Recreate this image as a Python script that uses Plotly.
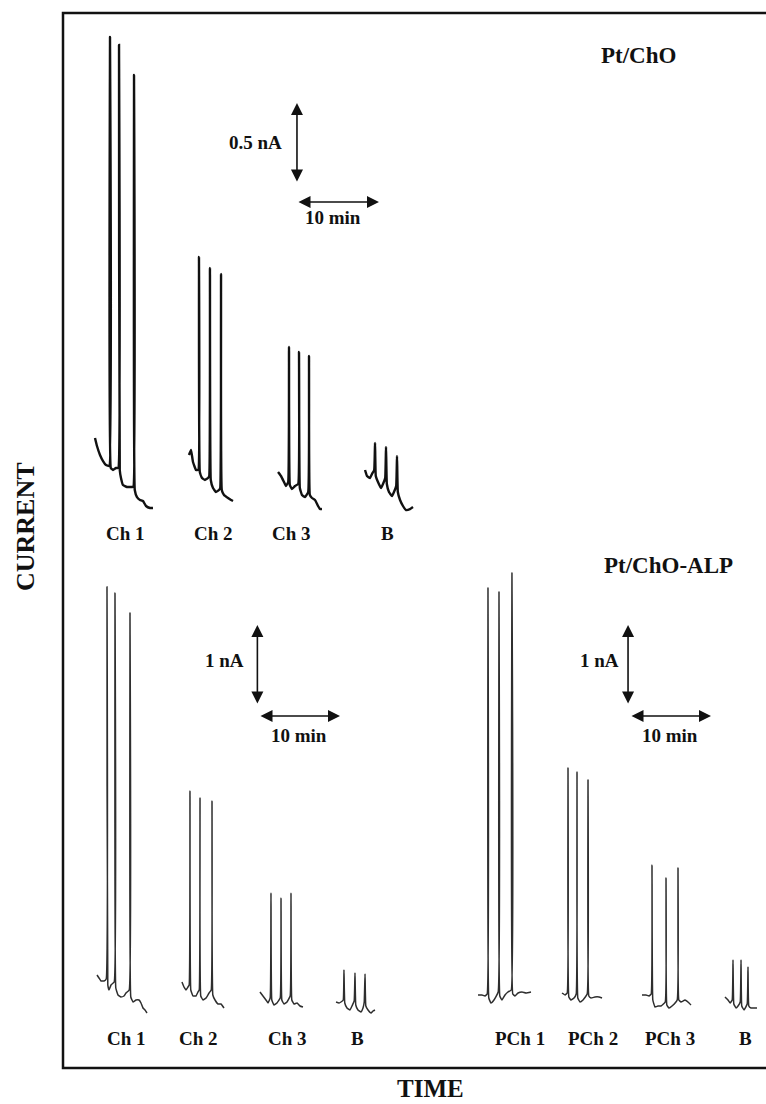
import plotly.graph_objects as go

# ---------------- data (time in min, current in nA) ----------------
# Pt/ChO (top panel)
TOP_CH1_PEAK_T = [1.83, 2.93, 4.76]
TOP_CH1_PEAK_I = [2.956, 2.906, 2.719]
TOP_CH1_BASE_T = [0.00, 0.24, 0.61, 0.98, 1.34, 1.73, 1.93, 2.20, 2.56, 2.83, 3.02, 3.17, 3.41, 3.90, 4.39, 4.66, 4.85, 5.12, 5.49, 5.85, 6.22, 6.71, 7.07]
TOP_CH1_BASE_I = [0.45, 0.40, 0.344, 0.306, 0.281, 0.275, 0.2625, 0.25, 0.2625, 0.2625, 0.25, 0.20, 0.156, 0.144, 0.144, 0.144, 0.125, 0.081, 0.0625, 0.056, 0.025, 0.0125, 0.0125]

TOP_CH2_PEAK_T = [12.68, 14.02, 15.37]
TOP_CH2_PEAK_I = [1.581, 1.5125, 1.475]
TOP_CH2_BASE_T = [11.46, 11.71, 11.95, 12.32, 12.59, 12.78, 13.05, 13.41, 13.78, 13.93, 14.12, 14.39, 14.76, 15.12, 15.27, 15.46, 15.73, 16.22, 16.59, 16.83]
TOP_CH2_BASE_I = [0.344, 0.375, 0.30, 0.25, 0.25, 0.2375, 0.20, 0.1875, 0.20, 0.2125, 0.1875, 0.1375, 0.1125, 0.125, 0.1375, 0.125, 0.094, 0.075, 0.0625, 0.056]

TOP_CH3_PEAK_T = [23.66, 24.88, 26.10]
TOP_CH3_PEAK_I = [1.019, 0.9875, 0.9625]
TOP_CH3_BASE_T = [22.32, 22.68, 23.05, 23.29, 23.56, 23.76, 24.02, 24.39, 24.78, 24.98, 25.24, 25.61, 26.00, 26.20, 26.46, 26.83, 27.20, 27.44, 27.68]
TOP_CH3_BASE_I = [0.2375, 0.2125, 0.175, 0.15, 0.175, 0.156, 0.131, 0.15, 0.1625, 0.1375, 0.094, 0.081, 0.1125, 0.094, 0.075, 0.0625, 0.025, 0.006, 0.006]

TOP_B_PEAK_T = [34.15, 35.49, 36.83]
TOP_B_PEAK_I = [0.419, 0.394, 0.3375]
TOP_B_BASE_T = [32.93, 33.17, 33.54, 33.78, 34.05, 34.24, 34.51, 34.88, 35.12, 35.39, 35.59, 35.85, 36.22, 36.46, 36.73, 36.93, 37.20, 37.56, 37.93, 38.41, 38.78]
TOP_B_BASE_I = [0.25, 0.2125, 0.20, 0.225, 0.25, 0.2125, 0.175, 0.1375, 0.1625, 0.20, 0.1625, 0.1125, 0.0875, 0.1125, 0.15, 0.1125, 0.0625, 0.025, 0.0, 0.006, 0.019]

# Pt/ChO-ALP (bottom panel)
BOT_CH1_PEAK_T = [1.235, 2.222, 4.074]
BOT_CH1_PEAK_I = [5.35, 5.275, 5.025]
BOT_CH1_BASE_T = [0.0, 0.247, 0.494, 0.864, 1.136, 1.333, 1.481, 1.728, 2.123, 2.321, 2.593, 2.963, 3.333, 3.580, 3.975, 4.173, 4.444, 4.815, 5.185, 5.432, 5.679, 5.926, 6.173]
BOT_CH1_BASE_I = [0.50, 0.4625, 0.425, 0.425, 0.45, 0.375, 0.3125, 0.375, 0.4125, 0.3375, 0.25, 0.225, 0.2375, 0.275, 0.3125, 0.225, 0.1625, 0.1875, 0.1875, 0.15, 0.0875, 0.0625, 0.025]

BOT_CH2_PEAK_T = [11.48, 12.72, 14.20]
BOT_CH2_PEAK_I = [2.80, 2.7125, 2.675]
BOT_CH2_BASE_T = [10.49, 10.74, 10.99, 11.23, 11.38, 11.58, 11.85, 12.22, 12.47, 12.62, 12.81, 13.09, 13.46, 13.83, 14.10, 14.30, 14.57, 14.94, 15.31, 15.68]
BOT_CH2_BASE_I = [0.4125, 0.35, 0.3125, 0.35, 0.375, 0.3125, 0.2375, 0.2375, 0.2875, 0.3125, 0.2375, 0.1875, 0.2125, 0.275, 0.3125, 0.25, 0.1875, 0.1375, 0.1375, 0.0875]

BOT_CH3_PEAK_T = [21.48, 22.72, 23.95]
BOT_CH3_PEAK_I = [1.525, 1.4625, 1.525]
BOT_CH3_BASE_T = [20.12, 20.49, 20.86, 21.11, 21.38, 21.58, 21.85, 22.22, 22.62, 22.82, 23.09, 23.46, 23.85, 24.05, 24.32, 24.69, 25.06, 25.43]
BOT_CH3_BASE_I = [0.2875, 0.2375, 0.1875, 0.15, 0.2125, 0.1875, 0.125, 0.15, 0.2125, 0.1875, 0.1375, 0.1625, 0.2375, 0.1875, 0.1375, 0.15, 0.1125, 0.10]

BOT_B1_PEAK_T = [30.49, 31.85, 33.09]
BOT_B1_PEAK_I = [0.5625, 0.525, 0.5125]
BOT_B1_BASE_T = [29.51, 29.88, 30.12, 30.40, 30.59, 30.86, 31.23, 31.48, 31.75, 31.95, 32.22, 32.59, 32.84, 32.99, 33.19, 33.46, 33.83, 34.07, 34.32]
BOT_B1_BASE_I = [0.1625, 0.15, 0.1625, 0.1875, 0.15, 0.0875, 0.0625, 0.1125, 0.175, 0.125, 0.0625, 0.0375, 0.0875, 0.1625, 0.1125, 0.0625, 0.025, 0.05, 0.0625]

BOT_PCH1_PEAK_T = [48.27, 49.63, 51.23]
BOT_PCH1_PEAK_I = [5.3375, 5.2875, 5.525]
BOT_PCH1_BASE_T = [47.04, 47.53, 47.90, 48.17, 48.37, 48.64, 49.01, 49.53, 49.73, 50.00, 50.37, 50.74, 51.14, 51.33, 51.60, 51.98, 52.47, 52.96, 53.58]
BOT_PCH1_BASE_I = [0.25, 0.25, 0.2375, 0.2625, 0.2125, 0.15, 0.1875, 0.2875, 0.2375, 0.1875, 0.25, 0.2875, 0.3125, 0.2625, 0.2375, 0.275, 0.2875, 0.275, 0.2875]

BOT_PCH2_PEAK_T = [58.15, 59.26, 60.62]
BOT_PCH2_PEAK_I = [3.0875, 3.0375, 2.9375]
BOT_PCH2_BASE_T = [57.41, 57.78, 58.05, 58.25, 58.52, 58.89, 59.16, 59.36, 59.63, 60.00, 60.52, 60.72, 60.99, 61.48, 61.98, 62.35]
BOT_PCH2_BASE_I = [0.275, 0.25, 0.275, 0.225, 0.1875, 0.2125, 0.2625, 0.2125, 0.1625, 0.1875, 0.2625, 0.2375, 0.2125, 0.225, 0.225, 0.2125]

BOT_PCH3_PEAK_T = [68.52, 70.25, 71.73]
BOT_PCH3_PEAK_I = [1.875, 1.7125, 1.8375]
BOT_PCH3_BASE_T = [67.28, 67.78, 68.15, 68.42, 68.62, 68.89, 69.26, 69.63, 70.15, 70.35, 70.62, 70.99, 71.63, 71.83, 72.10, 72.59, 73.09, 73.33]
BOT_PCH3_BASE_I = [0.25, 0.25, 0.2375, 0.2625, 0.1875, 0.10, 0.1125, 0.1125, 0.1625, 0.125, 0.0875, 0.1125, 0.1875, 0.1875, 0.1625, 0.1875, 0.15, 0.125]

BOT_B2_PEAK_T = [78.52, 79.51, 80.37]
BOT_B2_PEAK_I = [0.6875, 0.6875, 0.60]
BOT_B2_BASE_T = [77.53, 77.90, 78.15, 78.42, 78.62, 78.89, 79.14, 79.41, 79.60, 79.88, 80.27, 80.47, 80.74, 81.11, 81.48]
BOT_B2_BASE_I = [0.225, 0.1875, 0.15, 0.1875, 0.1375, 0.0875, 0.1125, 0.1625, 0.1125, 0.0625, 0.1375, 0.1125, 0.0875, 0.0875, 0.0875]

TOP_LABELS = ["Ch 1", "Ch 2", "Ch 3", "B"]
BOT_LABELS = ["Ch 1", "Ch 2", "Ch 3", "B", "PCh 1", "PCh 2", "PCh 3", "B"]
TOP_TITLE = "Pt/ChO"
BOT_TITLE = "Pt/ChO-ALP"
TOP_SCALE_NA = 0.5
BOT_SCALE_NA = 1.0
SCALE_MIN = 10

# ---------------- layout constants ----------------
W, H = 766, 1104
FONT = "Liberation Serif"
TOP_LABEL_T = [3.66, 14.39, 24.02, 35.73]
BOT_LABEL_T = [3.58, 12.47, 23.46, 32.10, 52.22, 61.23, 70.74, 80.0]


def build(bt, bi, pt, pi):
    pts = list(zip(bt, bi)) + list(zip(pt, pi))
    pts.sort(key=lambda p: p[0])
    return [p[0] for p in pts], [p[1] for p in pts]


fig = go.Figure()

top_sets = [
    (TOP_CH1_BASE_T, TOP_CH1_BASE_I, TOP_CH1_PEAK_T, TOP_CH1_PEAK_I),
    (TOP_CH2_BASE_T, TOP_CH2_BASE_I, TOP_CH2_PEAK_T, TOP_CH2_PEAK_I),
    (TOP_CH3_BASE_T, TOP_CH3_BASE_I, TOP_CH3_PEAK_T, TOP_CH3_PEAK_I),
    (TOP_B_BASE_T, TOP_B_BASE_I, TOP_B_PEAK_T, TOP_B_PEAK_I),
]
for name, s in zip(TOP_LABELS, top_sets):
    x, y = build(*s)
    fig.add_trace(go.Scatter(x=x, y=y, mode="lines", name=name,
                             line=dict(color="#111111", width=2.4, shape="spline", smoothing=0.3),
                             xaxis="x", yaxis="y", showlegend=False, hoverinfo="skip"))

bot_sets = [
    (BOT_CH1_BASE_T, BOT_CH1_BASE_I, BOT_CH1_PEAK_T, BOT_CH1_PEAK_I),
    (BOT_CH2_BASE_T, BOT_CH2_BASE_I, BOT_CH2_PEAK_T, BOT_CH2_PEAK_I),
    (BOT_CH3_BASE_T, BOT_CH3_BASE_I, BOT_CH3_PEAK_T, BOT_CH3_PEAK_I),
    (BOT_B1_BASE_T, BOT_B1_BASE_I, BOT_B1_PEAK_T, BOT_B1_PEAK_I),
    (BOT_PCH1_BASE_T, BOT_PCH1_BASE_I, BOT_PCH1_PEAK_T, BOT_PCH1_PEAK_I),
    (BOT_PCH2_BASE_T, BOT_PCH2_BASE_I, BOT_PCH2_PEAK_T, BOT_PCH2_PEAK_I),
    (BOT_PCH3_BASE_T, BOT_PCH3_BASE_I, BOT_PCH3_PEAK_T, BOT_PCH3_PEAK_I),
    (BOT_B2_BASE_T, BOT_B2_BASE_I, BOT_B2_PEAK_T, BOT_B2_PEAK_I),
]
for name, s in zip(BOT_LABELS, bot_sets):
    x, y = build(*s)
    fig.add_trace(go.Scatter(x=x, y=y, mode="lines", name=name,
                             line=dict(color="#2e2e2e", width=1.5, shape="spline", smoothing=0.3),
                             xaxis="x2", yaxis="y2", showlegend=False, hoverinfo="skip"))

ann = []
lab_font = dict(family=FONT, size=19, color="#111111")

arrow_style = dict(showarrow=True, arrowhead=2, startarrowhead=2, arrowside="end+start",
                   arrowsize=1.5, startarrowsize=1.5, arrowwidth=1.6, arrowcolor="#111111", text="")

# scale bars (top panel)
t_v_top = 24.63
i_v_top = 2.044
i_h_top = 1.925
t_h_top = 24.63
ann.append(dict(x=t_v_top, y=i_v_top + TOP_SCALE_NA, ax=t_v_top, ay=i_v_top,
                xref="x", yref="y", axref="x", ayref="y", **arrow_style))
ann.append(dict(x=t_h_top + SCALE_MIN, y=i_h_top, ax=t_h_top, ay=i_h_top,
                xref="x", yref="y", axref="x", ayref="y", **arrow_style))
ann.append(dict(x=23.0, y=i_v_top + TOP_SCALE_NA / 2, xref="x", yref="y", xanchor="right",
                yanchor="middle", showarrow=False, text=f"<b>{TOP_SCALE_NA} nA</b>", font=lab_font))
ann.append(dict(x=t_h_top + SCALE_MIN / 2 - 0.6, y=1.831, xref="x", yref="y", xanchor="center",
                yanchor="middle", showarrow=False, text=f"<b>{SCALE_MIN} min</b>", font=lab_font))

# scale bars (bottom panels)
for t_v, t_h, t_txt, t_min in [(19.8, 20.0, 18.4, 24.94), (65.56, 65.80, 64.7, 70.74)]:
    ann.append(dict(x=t_v, y=3.875 + BOT_SCALE_NA, ax=t_v, ay=3.875,
                    xref="x2", yref="y2", axref="x2", ayref="y2", **arrow_style))
    ann.append(dict(x=t_h + SCALE_MIN, y=3.7375, ax=t_h, ay=3.7375,
                    xref="x2", yref="y2", axref="x2", ayref="y2", **arrow_style))
    ann.append(dict(x=t_txt, y=3.875 + BOT_SCALE_NA / 2 + 0.06, xref="x2", yref="y2", xanchor="right",
                    yanchor="middle", showarrow=False, text=f"<b>{BOT_SCALE_NA:g} nA</b>", font=lab_font))
    ann.append(dict(x=t_min, y=3.5, xref="x2", yref="y2", xanchor="center",
                    yanchor="middle", showarrow=False, text=f"<b>{SCALE_MIN} min</b>", font=lab_font))

# group labels
for lab, t in zip(TOP_LABELS, TOP_LABEL_T):
    ann.append(dict(x=t, y=1 - 533 / H, xref="x", yref="paper", showarrow=False,
                    text=f"<b>{lab}</b>", font=lab_font, xanchor="center", yanchor="middle"))
for lab, t in zip(BOT_LABELS, BOT_LABEL_T):
    ann.append(dict(x=t, y=1 - 1038 / H, xref="x2", yref="paper", showarrow=False,
                    text=f"<b>{lab}</b>", font=lab_font, xanchor="center", yanchor="middle"))

# titles
title_font = dict(family=FONT, size=23, color="#111111")
ann.append(dict(x=638 / W, y=1 - 55 / H, xref="paper", yref="paper", showarrow=False,
                text=f"<b>{TOP_TITLE}</b>", font=title_font, xanchor="center", yanchor="middle"))
ann.append(dict(x=668 / W, y=1 - 565 / H, xref="paper", yref="paper", showarrow=False,
                text=f"<b>{BOT_TITLE}</b>", font=title_font, xanchor="center", yanchor="middle"))

axis_font = dict(family=FONT, size=26, color="#111111")
ann.append(dict(x=25 / W, y=1 - 527 / H, xref="paper", yref="paper", showarrow=False,
                text="<b>CURRENT</b>", textangle=-90, font=axis_font, xanchor="center", yanchor="middle"))
ann.append(dict(x=430 / W, y=1 - 1088 / H, xref="paper", yref="paper", showarrow=False,
                text="<b>TIME</b>", font=dict(family=FONT, size=25, color="#111111"),
                xanchor="center", yanchor="middle", borderpad=0))

fig.update_layout(
    width=W, height=H,
    margin=dict(l=0, r=0, t=0, b=0),
    paper_bgcolor="white", plot_bgcolor="rgba(0,0,0,0)",
    xaxis=dict(range=[-95 / 8.2, (W - 95) / 8.2], domain=[0, 1], visible=False, fixedrange=True),
    yaxis=dict(range=[(510 - H) / 160, 510 / 160], domain=[0, 1], visible=False, fixedrange=True),
    xaxis2=dict(range=[-97 / 8.1, (W - 97) / 8.1], domain=[0, 1], visible=False,
                overlaying="x", anchor="y2", fixedrange=True),
    yaxis2=dict(range=[(1015 - H) / 80, 1015 / 80], domain=[0, 1], visible=False,
                overlaying="y", anchor="x2", fixedrange=True),
    annotations=ann,
    shapes=[dict(type="rect", xref="paper", yref="paper",
                 x0=63 / W, x1=1.01, y0=1 - 1068 / H, y1=1 - 13 / H,
                 line=dict(color="#111111", width=2.5), layer="below")],
    showlegend=False,
)

fig.write_html("out.html", config={"displayModeBar": False},
               post_script="document.body.style.margin='0';document.body.style.overflow='hidden';")
